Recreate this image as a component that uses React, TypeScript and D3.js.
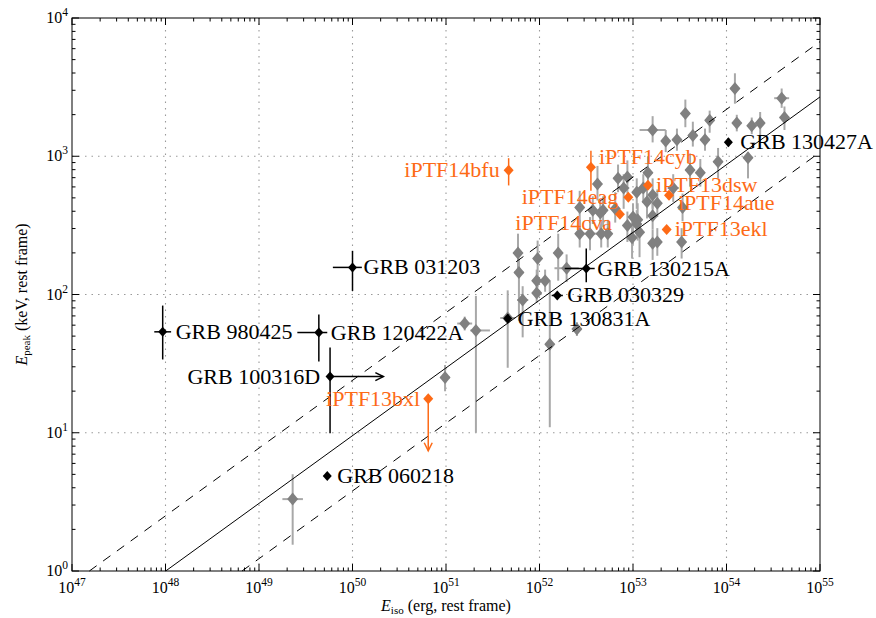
import React from 'react'
import * as d3 from 'd3'

const W = 876
const H = 618
const MARGIN = { top: 18, right: 56, bottom: 47, left: 72 }

// Amati relation drawn through the sample
const AMATI_NORM = 91 // keV at Eiso = 1e52 erg
const AMATI_INDEX = 0.49
const AMATI_SCATTER = 0.4 // dex

// axis decades
const xDecades = [47, 48, 49, 50, 51, 52, 53, 54, 55]
const yDecades = [0, 1, 2, 3, 4]

// GRB comparison sample: [log Eiso, log Epeak, dEp-, dEp+, dEiso-, dEiso+] (dex)
const grbSample: number[][] = [
  [49.36, 0.52, 0.33, 0.18, 0.11, 0.11],
  [50.99, 1.40, 0.10, 0.09, 0.05, 0.05],
  [51.20, 1.79, 0.05, 0.05, 0.08, 0.08],
  [51.32, 1.74, 0.74, 0.25, 0.06, 0.15],
  [51.66, 1.83, 0.36, 0.20, 0.08, 0.08],
  [51.77, 2.30, 0.14, 0.14, 0.05, 0.05],
  [51.78, 2.16, 0.35, 0.10, 0.05, 0.05],
  [51.82, 1.96, 0.27, 0.10, 0.06, 0.06],
  [51.98, 2.26, 0.21, 0.13, 0.05, 0.05],
  [51.97, 2.10, 0.08, 0.08, 0.05, 0.05],
  [52.06, 2.10, 0.08, 0.08, 0.05, 0.05],
  [51.97, 2.01, 0.07, 0.07, 0.05, 0.05],
  [52.20, 2.30, 0.20, 0.14, 0.05, 0.05],
  [52.11, 1.64, 0.60, 0.46, 0.05, 0.05],
  [52.40, 1.75, 0.05, 0.05, 0.05, 0.05],
  [52.29, 2.19, 0.10, 0.10, 0.13, 0.13],
  [52.43, 2.44, 0.10, 0.10, 0.05, 0.05],
  [52.54, 2.44, 0.12, 0.12, 0.10, 0.10],
  [52.66, 2.44, 0.10, 0.10, 0.05, 0.05],
  [52.73, 2.44, 0.10, 0.10, 0.05, 0.05],
  [52.65, 2.59, 0.12, 0.10, 0.06, 0.06],
  [52.81, 2.62, 0.10, 0.12, 0.05, 0.05],
  [52.62, 2.80, 0.12, 0.13, 0.05, 0.05],
  [52.94, 2.85, 0.12, 0.12, 0.06, 0.06],
  [52.84, 2.84, 0.10, 0.10, 0.05, 0.05],
  [53.16, 2.88, 0.10, 0.12, 0.05, 0.05],
  [52.90, 2.77, 0.15, 0.10, 0.06, 0.06],
  [53.04, 2.74, 0.12, 0.10, 0.05, 0.05],
  [53.11, 2.77, 0.10, 0.10, 0.05, 0.05],
  [53.21, 2.72, 0.10, 0.12, 0.05, 0.05],
  [53.15, 2.67, 0.12, 0.10, 0.05, 0.05],
  [53.26, 2.66, 0.10, 0.10, 0.05, 0.05],
  [53.43, 2.77, 0.10, 0.10, 0.06, 0.06],
  [53.00, 2.56, 0.20, 0.10, 0.05, 0.05],
  [53.05, 2.54, 0.15, 0.12, 0.05, 0.05],
  [53.21, 2.57, 0.10, 0.10, 0.05, 0.05],
  [53.07, 2.45, 0.18, 0.10, 0.05, 0.05],
  [52.99, 2.41, 0.15, 0.12, 0.05, 0.05],
  [53.21, 2.37, 0.12, 0.10, 0.05, 0.05],
  [53.61, 2.90, 0.12, 0.12, 0.05, 0.05],
  [53.91, 2.96, 0.12, 0.10, 0.05, 0.05],
  [54.23, 2.99, 0.15, 0.04, 0.05, 0.05],
  [53.56, 3.31, 0.10, 0.10, 0.05, 0.05],
  [53.21, 3.19, 0.09, 0.10, 0.14, 0.14],
  [53.35, 3.11, 0.08, 0.08, 0.05, 0.05],
  [53.47, 3.12, 0.08, 0.08, 0.05, 0.05],
  [53.64, 3.15, 0.08, 0.10, 0.05, 0.05],
  [53.77, 3.12, 0.08, 0.08, 0.05, 0.05],
  [53.82, 3.26, 0.09, 0.07, 0.05, 0.05],
  [54.09, 3.49, 0.11, 0.11, 0.05, 0.05],
  [54.59, 3.42, 0.07, 0.07, 0.08, 0.08],
  [54.62, 3.28, 0.09, 0.08, 0.05, 0.05],
  [54.11, 3.24, 0.06, 0.06, 0.05, 0.05],
  [54.27, 3.22, 0.06, 0.06, 0.05, 0.05],
  [54.36, 3.24, 0.10, 0.08, 0.05, 0.05],
  [53.72, 2.88, 0.10, 0.10, 0.05, 0.05],
  [53.52, 2.38, 0.12, 0.10, 0.05, 0.05],
  [53.53, 2.63, 0.10, 0.10, 0.05, 0.05],
  [52.57, 2.61, 0.10, 0.10, 0.05, 0.05],
  [52.68, 2.61, 0.12, 0.10, 0.05, 0.05],
  [52.43, 2.63, 0.15, 0.12, 0.05, 0.05],
  [52.94, 2.50, 0.12, 0.10, 0.05, 0.05],
  [53.04, 2.51, 0.10, 0.10, 0.05, 0.05],
  [53.26, 2.38, 0.10, 0.10, 0.05, 0.05],
]

// labelled GRBs
const grbNames = ['GRB 980425', 'GRB 120422A', 'GRB 100316D', 'GRB 031203', 'GRB 060218',
  'GRB 130831A', 'GRB 030329', 'GRB 130215A', 'GRB 130427A']
const grbLogEiso = [47.97, 49.64, 49.76, 50.0, 49.73, 51.66, 52.19, 52.5, 54.02]
const grbLogEpeak = [1.73, 1.725, 1.406, 2.196, 0.688, 1.826, 1.993, 2.188, 3.101]
// [dEp-, dEp+, dEiso-, dEiso+] (dex)
const grbErr = [
  [0.2, 0.19, 0.09, 0.09],
  [0.21, 0.13, 0.23, 0.09],
  [0.41, 0.21, 0, 0],
  [0.17, 0.12, 0.21, 0.1],
  [0, 0, 0, 0],
  [0.03, 0.03, 0.03, 0.03],
  [0.02, 0.02, 0.06, 0.06],
  [0.1, 0.145, 0.23, 0.09],
  [0.03, 0.03, 0.03, 0.03],
]
const grbLowerLimitEiso = [null, null, 50.33, null, null, null, null, null, null]
// label placement: [dx, dy, anchor]
const grbLabelPos: [number, number, string][] = [
  [13, 0, 'start'], [12, 0, 'start'], [-10, 0, 'end'], [11, 0, 'start'], [10, 0, 'start'],
  [10, 0, 'start'], [10, 0, 'start'], [11, 0, 'start'], [12, 0, 'start'],
]

// iPTF afterglow-found GRBs
const ptfNames = ['iPTF14bfu', 'iPTF14cyb', 'iPTF13dsw', 'iPTF14eag', 'iPTF14cva',
  'iPTF14aue', 'iPTF13ekl', 'iPTF13bxl']
const ptfLogEiso = [51.67, 52.55, 53.16, 52.95, 52.86, 53.385, 53.36, 50.81]
const ptfLogEpeak = [2.899, 2.92, 2.79, 2.703, 2.58, 2.717, 2.471, 1.246]
const ptfErr = [
  [0.11, 0.087], [0.17, 0.12], [0, 0], [0, 0], [0, 0], [0, 0], [0, 0], [0, 0],
]
const ptfUpperLimitEpeak = [null, null, null, null, null, null, null, 0.87]
const ptfLabelPos: [number, number, string][] = [
  [-9, 0, 'end'], [8, -10, 'start'], [8, 0, 'start'], [-10, 0, 'end'], [-8, 9, 'end'],
  [9, 8, 'start'], [8, 0, 'start'], [-8, 0, 'end'],
]

const GRAY = '#808080'
const GRAY_BAR = '#a8a8a8'
const ORANGE = '#fd6a16'
const FONT = '"Liberation Serif", "DejaVu Serif", serif'

function diamond(cx: number, cy: number, rx: number, ry: number) {
  return `M${cx},${cy - ry}L${cx + rx},${cy}L${cx},${cy + ry}L${cx - rx},${cy}Z`
}

export default function App() {
  const x = d3.scaleLog().domain([1e47, 1e55]).range([MARGIN.left, W - MARGIN.right])
  const y = d3.scaleLog().domain([1, 1e4]).range([H - MARGIN.bottom, MARGIN.top])
  const X = (l: number) => x(Math.pow(10, l))
  const Y = (l: number) => y(Math.pow(10, l))
  const [x0, x1] = x.range()
  const [y0, y1] = y.range()

  // minor ticks
  const xMinor: number[] = []
  xDecades.slice(0, -1).forEach((d) => { for (let k = 2; k < 10; k++) xMinor.push(k * Math.pow(10, d)) })
  const yMinor: number[] = []
  yDecades.slice(0, -1).forEach((d) => { for (let k = 2; k < 10; k++) yMinor.push(k * Math.pow(10, d)) })

  // relation line, offset in dex, clipped at the bottom of the plot
  const relLine = (off: number) => {
    const f = (le: number) => Math.log10(AMATI_NORM) + AMATI_INDEX * (le - 52) + off
    const leStart = 52 + (0 - Math.log10(AMATI_NORM) - off) / AMATI_INDEX
    const a = Math.max(47, leStart)
    const pts: [number, number][] = [[X(a), Y(f(a))], [X(55), Y(f(55))]]
    return d3.line()(pts) || ''
  }

  return (
    <svg width={W} height={H} style={{ position: 'absolute', left: 0, top: 0, background: '#fff' }}
      fontFamily={FONT}>
      <rect x={0} y={0} width={W} height={H} fill="#fff" />
      {/* grid */}
      <g stroke="#9a9a9a" strokeWidth={1.1} strokeDasharray="1.5,5">
        {xDecades.slice(1, -1).map((d) => (
          <line key={'gx' + d} x1={X(d)} x2={X(d)} y1={y0} y2={y1} />
        ))}
        {yDecades.slice(1, -1).map((d) => (
          <line key={'gy' + d} x1={x0} x2={x1} y1={Y(d)} y2={Y(d)} />
        ))}
      </g>

      {/* comparison sample */}
      <g stroke={GRAY_BAR} strokeWidth={2}>
        {grbSample.map((p, i) => (
          <g key={'ge' + i}>
            <line x1={X(p[0])} x2={X(p[0])} y1={Y(p[1] - p[2])} y2={Y(p[1] + p[3])} />
            <line x1={X(p[0] - p[4])} x2={X(p[0] + p[5])} y1={Y(p[1])} y2={Y(p[1])} />
          </g>
        ))}
      </g>
      <g fill={GRAY}>
        {grbSample.map((p, i) => (
          <path key={'gd' + i} d={diamond(X(p[0]), Y(p[1]), 5.5, 6.5)} />
        ))}
      </g>

      {/* Amati relation */}
      <g fill="none" stroke="#000" strokeWidth={1}>
        <path d={relLine(0)} />
        <path d={relLine(AMATI_SCATTER)} strokeDasharray="9,8" />
        <path d={relLine(-AMATI_SCATTER)} strokeDasharray="9,8" />
      </g>

      {/* labelled GRBs */}
      {grbNames.map((name, i) => {
        const cx = X(grbLogEiso[i])
        const cy = Y(grbLogEpeak[i])
        const e = grbErr[i]
        const lim = grbLowerLimitEiso[i]
        const [dx, dy, anchor] = grbLabelPos[i]
        return (
          <g key={name}>
            <g stroke="#000" strokeWidth={1.5}>
              {(e[0] > 0 || e[1] > 0) && (
                <line x1={cx} x2={cx} y1={Y(grbLogEpeak[i] - e[0])} y2={Y(grbLogEpeak[i] + e[1])} />
              )}
              {(e[2] > 0 || e[3] > 0) && (
                <line x1={X(grbLogEiso[i] - e[2])} x2={X(grbLogEiso[i] + e[3])} y1={cy} y2={cy} />
              )}
              {lim !== null && (
                <g fill="none">
                  <line x1={cx} x2={X(lim)} y1={cy} y2={cy} />
                  <path d={`M${X(lim) - 8},${cy - 4}L${X(lim)},${cy}L${X(lim) - 8},${cy + 4}`} />
                </g>
              )}
            </g>
            <path d={diamond(cx, cy, 4.5, 5)} fill="#000" />
            <text x={cx + dx} y={cy + dy + 7} fontSize={22} textAnchor={anchor} fill="#000">{name}</text>
          </g>
        )
      })}

      {/* iPTF events */}
      {ptfNames.map((name, i) => {
        const cx = X(ptfLogEiso[i])
        const cy = Y(ptfLogEpeak[i])
        const e = ptfErr[i]
        const lim = ptfUpperLimitEpeak[i]
        const [dx, dy, anchor] = ptfLabelPos[i]
        return (
          <g key={name}>
            <g stroke={ORANGE} strokeWidth={1.5} fill="none">
              {(e[0] > 0 || e[1] > 0) && (
                <line x1={cx} x2={cx} y1={Y(ptfLogEpeak[i] - e[0])} y2={Y(ptfLogEpeak[i] + e[1])} />
              )}
              {lim !== null && (
                <g>
                  <line x1={cx} x2={cx} y1={cy} y2={Y(lim)} />
                  <path d={`M${cx - 4},${Y(lim) - 8}L${cx},${Y(lim)}L${cx + 4},${Y(lim) - 8}`} />
                </g>
              )}
            </g>
            <path d={diamond(cx, cy, 5, 5.5)} fill={ORANGE} />
            <text x={cx + dx} y={cy + dy + 7} fontSize={22} textAnchor={anchor} fill={ORANGE}>{name}</text>
          </g>
        )
      })}

      {/* frame and ticks */}
      <rect x={x0} y={y1} width={x1 - x0} height={y0 - y1} fill="none" stroke="#000" strokeWidth={1} />
      <g stroke="#000" strokeWidth={1}>
        {xDecades.map((d) => (
          <g key={'xt' + d}>
            <line x1={X(d)} x2={X(d)} y1={y0} y2={y0 - 7} />
            <line x1={X(d)} x2={X(d)} y1={y1} y2={y1 + 7} />
          </g>
        ))}
        {xMinor.map((v, i) => (
          <g key={'xm' + i}>
            <line x1={x(v)} x2={x(v)} y1={y0} y2={y0 - 3.5} />
            <line x1={x(v)} x2={x(v)} y1={y1} y2={y1 + 3.5} />
          </g>
        ))}
        {yDecades.map((d) => (
          <g key={'yt' + d}>
            <line x1={x0} x2={x0 + 7} y1={Y(d)} y2={Y(d)} />
            <line x1={x1} x2={x1 - 7} y1={Y(d)} y2={Y(d)} />
          </g>
        ))}
        {yMinor.map((v, i) => (
          <g key={'ym' + i}>
            <line x1={x0} x2={x0 + 3.5} y1={y(v)} y2={y(v)} />
            <line x1={x1} x2={x1 - 3.5} y1={y(v)} y2={y(v)} />
          </g>
        ))}
      </g>

      {/* tick labels */}
      <g fontSize={16} fill="#000">
        {xDecades.map((d) => (
          <text key={'xl' + d} x={X(d)} y={y0 + 22} textAnchor="middle">
            10<tspan dy={-7} fontSize={11.5}>{d}</tspan>
          </text>
        ))}
        {yDecades.map((d) => (
          <text key={'yl' + d} x={x0 - 4} y={Y(d) + 5} textAnchor="end">
            10<tspan dy={-7} fontSize={11.5}>{d}</tspan>
          </text>
        ))}
      </g>

      {/* axis titles */}
      <text x={(x0 + x1) / 2} y={H - 7} fontSize={16} textAnchor="middle" fill="#000">
        <tspan fontStyle="italic">E</tspan><tspan fontSize={11} dy={3}>iso</tspan>
        <tspan dy={-3}> (erg, rest frame)</tspan>
      </text>
      <text transform={`translate(${27},${(y0 + y1) / 2}) rotate(-90)`} fontSize={16}
        textAnchor="middle" fill="#000">
        <tspan fontStyle="italic">E</tspan><tspan fontSize={11} dy={3}>peak</tspan>
        <tspan dy={-3}> (keV, rest frame)</tspan>
      </text>
    </svg>
  )
}
